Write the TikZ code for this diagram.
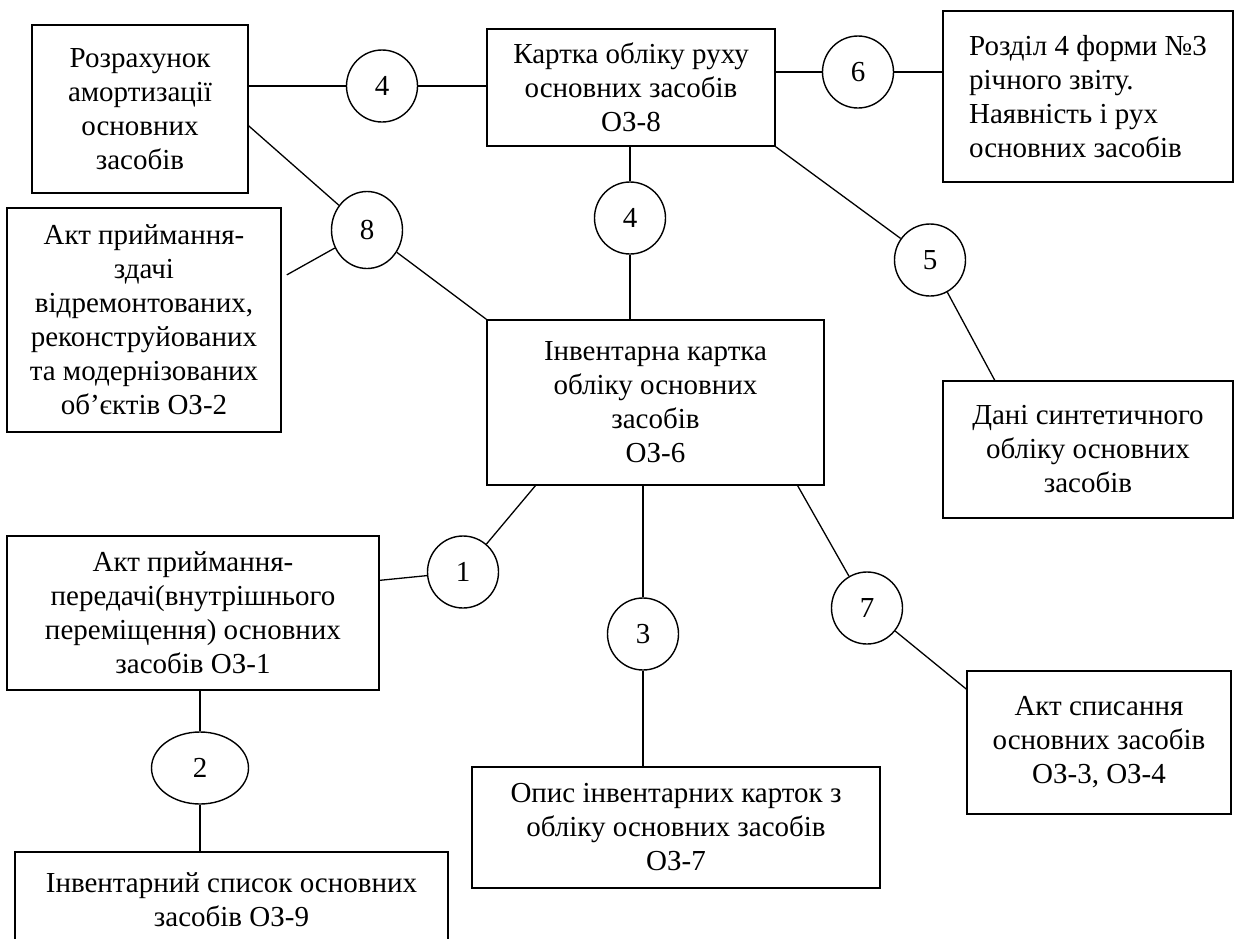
\documentclass[tikz,border=0pt]{standalone}
\usepackage{fontspec}
\setmainfont{Liberation Serif}
\usetikzlibrary{shapes.geometric,calc}
\begin{document}
\begin{tikzpicture}[x=1pt,y=-1pt,
 box/.style={draw,line width=1.6pt,inner sep=0pt,align=center,font=\fontsize{29}{34}\selectfont},
 num/.style={draw,ellipse,line width=1.4pt,inner sep=0pt,minimum width=71pt,minimum height=72pt,font=\fontsize{29}{34}\selectfont},
 link/.style={line width=1.3pt}]
\useasboundingbox (0,0) rectangle (1235,938);
\clip (0,0) rectangle (1235,938);
\fill[white] (0,0) rectangle (1235,938);
% boxes
\node[box,minimum width=216pt,minimum height=168pt] (A) at (140,109) {Розрахунок\\амортизації\\основних\\засобів};
\node[box,minimum width=288pt,minimum height=117pt] (B) at (631,87.5) {Картка обліку руху\\основних засобів\\ОЗ-8};
\node[box,align=left,minimum width=290pt,minimum height=171pt] (C) at (1088,96.5) {Розділ 4 форми №3\\річного звіту.\\Наявність і рух\\основних засобів};
\node[box,minimum width=337pt,minimum height=165pt] (D) at (655.5,402.5) {Інвентарна картка\\обліку основних\\засобів\\ОЗ-6};
\node[box,minimum width=290pt,minimum height=137pt] (E) at (1088,449.5) {Дані синтетичного\\обліку основних\\засобів};
\node[box,minimum width=274pt,minimum height=224pt] (F) at (144,320) {Акт приймання-\\здачі\\відремонтованих,\\реконструйованих\\та модернізованих\\об’єктів ОЗ-2};
\node[box,minimum width=372pt,minimum height=154pt] (G) at (193,613) {Акт приймання-\\передачі(внутрішнього\\переміщення) основних\\засобів ОЗ-1};
\node[box,minimum width=408pt,minimum height=121pt] (H) at (676,827.5) {Опис інвентарних карток з\\обліку основних засобів\\ОЗ-7};
\node[box,minimum width=264pt,minimum height=143pt] (I) at (1099,742.5) {Акт списання\\основних засобів\\ОЗ-3, ОЗ-4};
\node[box,minimum width=433pt,minimum height=96pt] (J) at (231.5,900) {Інвентарний список основних\\засобів ОЗ-9};
% circles
\node[num] (c4a) at (382,86) {4};
\node[num] (c6) at (858,72) {6};
\node[num] (c4b) at (630,218) {4};
\node[num] (c5) at (930,260) {5};
\node[num,minimum height=77pt] (c8) at (367,230) {8};
\node[num] (c1) at (463,572) {1};
\node[num] (c3) at (643,634) {3};
\node[num] (c7) at (867,608) {7};
\node[num,minimum width=97pt] (c2) at (200,768) {2};
% connectors
\draw[link] (c4a.west) -- (c4a.west -| A.east);
\draw[link] (c4a.east) -- (c4a.east -| B.west);
\draw[link] (c6.west) -- (c6.west -| B.east);
\draw[link] (c6.east) -- (c6.east -| C.west);
\draw[link] (c4b.north) -- (c4b.north |- B.south);
\draw[link] (c4b.south) -- (c4b.south |- D.north);
\draw[link] (B.south east) -- (c5);
\draw[link] (c5) -- ($(E.north west)!0.18!(E.north east)$);
\draw[link] ($(A.north east)!0.6!(A.south east)$) -- (c8);
\draw[link] (c8) -- (D.north west);
\coordinate (f8) at ($(F.north east)!0.3!(F.south east)+(5,0)$);
\draw[link] (c8) -- (f8);
\draw[link] ($(G.north east)!0.29!(G.south east)$) -- (c1);
\draw[link] (c1) -- ($(D.south west)!0.145!(D.south east)$);
\draw[link] (c3.north) -- (c3.north |- D.south);
\draw[link] (c3.south) -- (c3.south |- H.north);
\draw[link] ($(D.south west)!0.92!(D.south east)$) -- (c7);
\draw[link] (c7) -- ($(I.north west)!0.13!(I.south west)$);
\draw[link] (c2.north) -- (c2.north |- G.south);
\draw[link] (c2.south) -- (c2.south |- J.north);
\end{tikzpicture}
\end{document}
